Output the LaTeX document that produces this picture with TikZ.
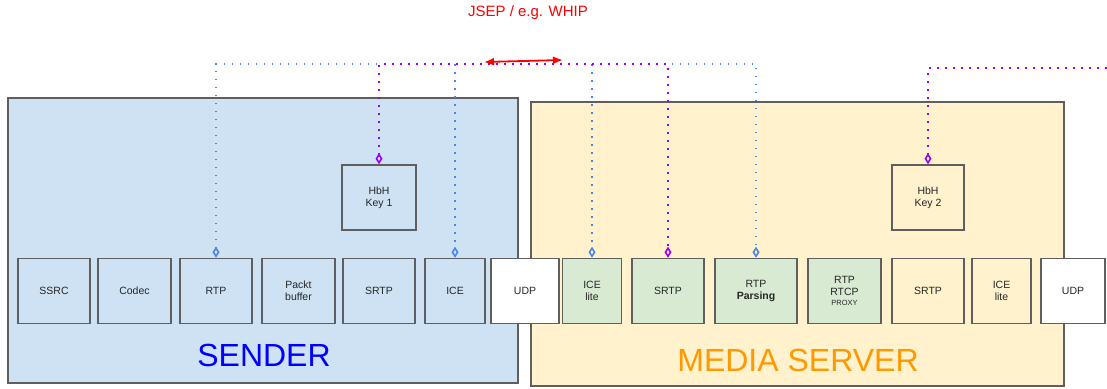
\documentclass[tikz,border=0pt]{standalone}
\usepackage{fontspec}
\setmainfont{Liberation Sans}
\usetikzlibrary{arrows.meta}
\definecolor{sendfill}{HTML}{CFE2F3}
\definecolor{medfill}{HTML}{FFF2CC}
\definecolor{grnfill}{HTML}{D9EAD3}
\definecolor{bord}{HTML}{5F5F5F}
\definecolor{dblue}{HTML}{4A86E8}
\definecolor{dpurp}{HTML}{9900FF}
\definecolor{sorange}{HTML}{FF9900}
\definecolor{jred}{HTML}{FF0000}
\begin{document}
\begin{tikzpicture}[x=1pt,y=-1pt,
  region/.style={draw=bord, line width=1.5pt, inner sep=0pt},
  blk/.style={draw=bord, line width=1.6pt, minimum height=65pt, inner sep=0pt,
    align=center, font=\fontsize{10.5}{12}\selectfont, text=black!85},
  bigtxt/.style={inner sep=0pt, font=\fontsize{32}{36}\selectfont},
  bluedot/.style={draw=dblue, line width=1.6pt, dash pattern=on 1.6pt off 6.4pt},
  purpdot/.style={draw=dpurp, line width=1.6pt, dash pattern=on 1.6pt off 6.4pt},
  dtip/.style={-{Diamond[open,length=11pt,width=7pt]}},
  ddtip/.style={{Diamond[open,length=11pt,width=7pt]}-{Diamond[open,length=11pt,width=7pt]}},
  redarr/.style={draw=jred, line width=1.8pt, {Latex[length=10pt,width=8pt]}-{Latex[length=10pt,width=8pt]}}
]
\useasboundingbox (0,0) rectangle (1107,388);

% regions
\node[region, fill=sendfill, minimum width=510pt, minimum height=285pt] (sender) at (263,240.5) {};
\node[region, fill=medfill, minimum width=533pt, minimum height=284pt] (media) at (797.5,244) {};
\node[bigtxt, text=blue] (sendlbl) at (264,355.5) {SENDER};
\node[bigtxt, text=sorange] (medlbl) at (798,360.5) {MEDIA SERVER};

% sender blocks
\node[blk, fill=sendfill, minimum width=72pt] (sssrc) at (54,291) {SSRC};
\node[blk, fill=sendfill, minimum width=73pt] (scodec) at (134.5,291) {Codec};
\node[blk, fill=sendfill, minimum width=72pt] (srtp) at (216,291) {RTP};
\node[blk, fill=sendfill, minimum width=73pt] (spb) at (298.5,291) {Packt\\buffer};
\node[blk, fill=sendfill, minimum width=72pt] (ssrtp) at (379,291) {SRTP};
\node[blk, fill=sendfill, minimum width=60pt] (sice) at (455,291) {ICE};
\node[blk, fill=white, minimum width=68pt] (sudp) at (525,291) {UDP};
\node[blk, fill=sendfill, minimum width=74pt] (key1) at (379,197.5) {HbH\\Key 1};

% media server blocks
\node[blk, fill=grnfill, minimum width=59pt] (mice) at (592,291) {ICE\\lite};
\node[blk, fill=grnfill, minimum width=72pt] (msrtp) at (668,291) {SRTP};
\node[blk, fill=grnfill, minimum width=82pt] (mrtp) at (756,291) {RTP\\\textbf{Parsing}};
\node[blk, fill=grnfill, minimum width=73pt] (mproxy) at (844.5,291) {RTP\\RTCP\\[-1.5pt]{\fontsize{7.5}{8}\selectfont PROXY}};
\node[blk, fill=medfill, minimum width=72pt] (osrtp) at (928,291) {SRTP};
\node[blk, fill=medfill, minimum width=59pt] (oice) at (1001.5,291) {ICE\\lite};
\node[blk, fill=white, minimum width=64pt] (oudp) at (1073,291) {UDP};
\node[blk, fill=medfill, minimum width=72pt] (key2) at (928,197.5) {HbH\\Key 2};

% signalling
\coordinate (top) at (486,64);
\coordinate (ptop) at (1107,68);
\draw[bluedot, ddtip] (srtp.north) |- (top) -| (mrtp.north);
\draw[bluedot, dtip] (sice.north |- top) -- (sice.north);
\draw[bluedot, dtip] (mice.north |- top) -- (mice.north);
\draw[purpdot, ddtip] (key1.north) |- (top) -| (msrtp.north);
\draw[purpdot, dtip] (ptop) -| (key2.north);

\coordinate (ra) at (484,62);
\coordinate (rb) at (563,60);
\draw[redarr] (ra) -- (rb);
\node[inner sep=0pt, text=jred, font=\fontsize{15}{18}\selectfont] (jsep) at (528,13) {JSEP / e.g. WHIP};
\end{tikzpicture}
\end{document}
